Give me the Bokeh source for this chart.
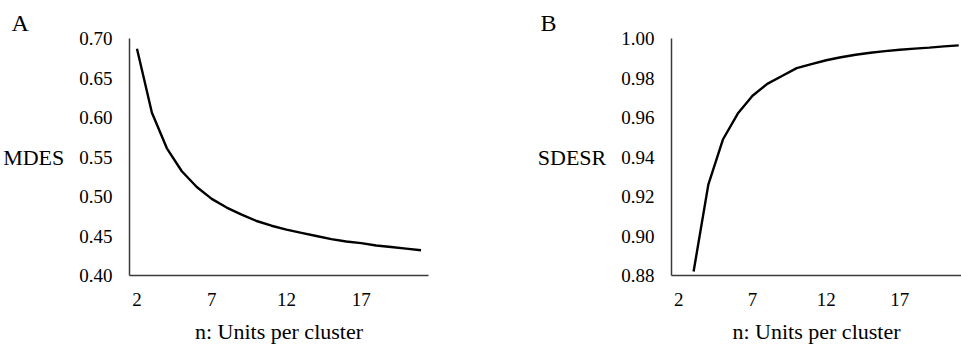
from bokeh.plotting import figure
from bokeh.layouts import row
from bokeh.models import FixedTicker, Range1d, CustomJSTickFormatter, Title, LinearAxis
from bokeh.embed import file_html
from bokeh.resources import INLINE

n_a = list(range(2, 22))
mdes = [0.687, 0.606, 0.561, 0.532, 0.512, 0.497, 0.486, 0.477, 0.469, 0.463,
        0.458, 0.454, 0.450, 0.446, 0.443, 0.441, 0.438, 0.436, 0.434, 0.432]

n_b = list(range(3, 22))
sdesr = [0.882, 0.926, 0.949, 0.962, 0.971, 0.977, 0.981, 0.985, 0.987, 0.989,
         0.9905, 0.9918, 0.9928, 0.9936, 0.9943, 0.9949, 0.9954, 0.996, 0.9965]

x_ticks = [2, 7, 12, 17]
ya_ticks = [0.40, 0.45, 0.50, 0.55, 0.60, 0.65, 0.70]
yb_ticks = [0.88, 0.90, 0.92, 0.94, 0.96, 0.98, 1.00]

FONT = "'Liberation Serif', 'Times New Roman', serif"
AXIS_COLOR = "#3a3a3a"
HAS_ORIENT = "axis_label_orientation" in LinearAxis.properties()


def style(p, yticks, ytitle, ytitle_standoff, letter, letter_offset):
    p.outline_line_color = None
    p.xgrid.visible = False
    p.ygrid.visible = False
    p.background_fill_color = "white"
    p.border_fill_color = "white"
    for ax in (p.xaxis[0], p.yaxis[0]):
        ax.axis_line_color = AXIS_COLOR
        ax.axis_line_width = 1.5
        ax.major_tick_line_color = None
        ax.minor_tick_line_color = None
        ax.major_tick_out = 0
        ax.major_tick_in = 0
        ax.minor_tick_out = 0
        ax.minor_tick_in = 0
        ax.major_label_text_font = FONT
        ax.major_label_text_font_size = "19px"
        ax.major_label_text_color = "black"
        ax.axis_label_text_font = FONT
        ax.axis_label_text_font_size = "22px"
        ax.axis_label_text_font_style = "normal"
        ax.axis_label_text_color = "black"
    p.xaxis[0].ticker = FixedTicker(ticks=x_ticks)
    p.yaxis[0].ticker = FixedTicker(ticks=yticks)
    p.yaxis[0].formatter = CustomJSTickFormatter(code="return tick.toFixed(2);")
    p.xaxis[0].major_label_standoff = 17
    p.yaxis[0].major_label_standoff = 17
    p.xaxis[0].axis_label = "n: Units per cluster"
    p.xaxis[0].axis_label_standoff = 10
    p.yaxis[0].axis_label = ytitle
    p.yaxis[0].axis_label_standoff = ytitle_standoff
    if HAS_ORIENT:
        p.yaxis[0].axis_label_orientation = "horizontal"
    p.add_layout(Title(text=letter, align="left", offset=letter_offset,
                       text_font=FONT, text_font_size="24px",
                       text_font_style="normal", text_color="black",
                       standoff=6), "above")


# Panel A
pa = figure(width=480, height=347, output_backend="svg", toolbar_location=None,
            x_range=Range1d(1.5, 21.5), y_range=Range1d(0.40, 0.70),
            min_border_left=128, min_border_right=52, min_border_top=38,
            min_border_bottom=72)
style(pa, ya_ticks, "MDES", 12, "A", -118)
pa.line(n_a, mdes, line_color="black", line_width=2.4)

# Panel B
pb = figure(width=481, height=347, output_backend="svg", toolbar_location=None,
            x_range=Range1d(1.5, 1.5 + 290 / 14.73), y_range=Range1d(0.88, 1.00),
            min_border_left=191, min_border_right=0, min_border_top=38,
            min_border_bottom=72)
style(pb, yb_ticks, "SDESR", 12, "B", -131)
pb.line(n_b, sdesr, line_color="black", line_width=2.4)

layout = row(pa, pb)
open("out.html", "w").write(file_html(layout, INLINE))
